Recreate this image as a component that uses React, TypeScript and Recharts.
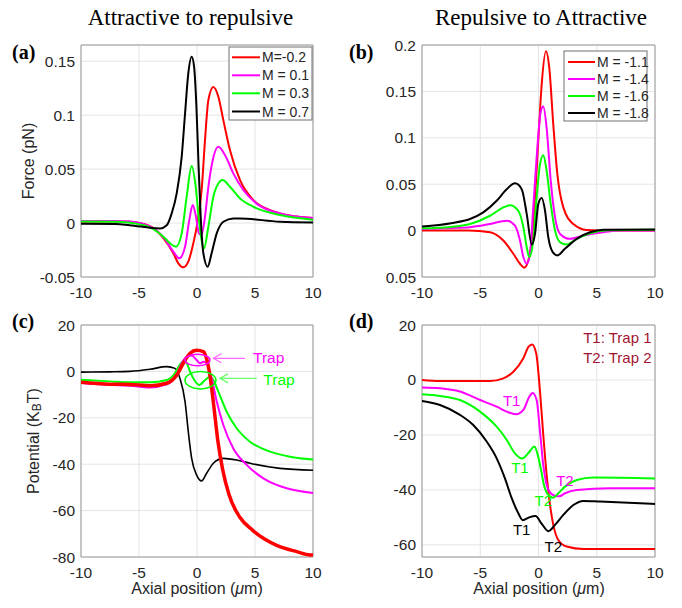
import React from 'react';
import { LineChart, Line, XAxis, YAxis, CartesianGrid, ReferenceArea, ReferenceDot, ReferenceLine } from 'recharts';

// ---------- data (x in µm, y values) ----------
const X_TICKS = [-10, -5, 0, 5, 10];
const A_TICKS = [-0.05, 0, 0.05, 0.1, 0.15];
const B_TICKS = [-0.05, 0, 0.05, 0.1, 0.15, 0.2];
const C_TICKS = [-80, -60, -40, -20, 0, 20];
const D_TICKS = [-60, -40, -20, 0, 20];

const A_LABELS = ['M=-0.2', 'M = 0.1', 'M = 0.3', 'M = 0.7'];
const B_LABELS = ['M = -1.1', 'M = -1.4', 'M = -1.6', 'M = -1.8'];

const aRed = [[-10,0.0015],[-7,0.0015],[-5.8,0.0012],[-4.05,-0.003],[-2.9,-0.014],[-2.04,-0.028],[-1.61,-0.0373],[-1.18,-0.041],[-0.75,-0.0358],[-0.32,-0.0188],[0.05,0.001],[0.4,0.0306],[0.69,0.0769],[0.98,0.114],[1.41,0.126],[1.84,0.117],[2.27,0.0954],[2.84,0.0676],[3.71,0.0398],[4.86,0.0213],[6.3,0.012],[7.16,0.0089],[10,0.0046]];
const aMag = [[-10,0.002],[-7,0.002],[-5.8,0.0015],[-4.05,-0.003],[-2.9,-0.013],[-2.04,-0.0265],[-1.52,-0.0327],[-1.03,-0.022],[-0.66,0.0028],[-0.37,0.0167],[-0.09,0.0059],[0.17,-0.0096],[0.38,-0.011],[0.69,0.0059],[0.98,0.0336],[1.35,0.058],[1.84,0.0706],[2.41,0.063],[3.13,0.046],[3.99,0.0306],[5.14,0.018],[7.16,0.0089],[10,0.0046]];
const aGreen = [[-10,0.0015],[-7,0.0012],[-5.8,0.0003],[-4.05,-0.004],[-2.9,-0.0127],[-2.3,-0.019],[-1.81,-0.0219],[-1.32,-0.0096],[-0.89,0.0244],[-0.46,0.0528],[-0.11,0.0336],[0.17,0.0028],[0.6,-0.0235],[0.98,-0.0034],[1.41,0.0244],[1.84,0.0367],[2.21,0.0398],[2.84,0.0336],[3.71,0.0228],[4.86,0.0151],[7.16,0.0074],[10,0.0031]];
const aBlack = [[-10,-0.0006],[-7,-0.0008],[-5.8,-0.002],[-3.19,-0.005],[-2.61,-0.002],[-2.18,0.009],[-1.75,0.0275],[-1.32,0.0614],[-1.03,0.1015],[-0.75,0.1386],[-0.46,0.154],[-0.25,0.1448],[-0.05,0.108],[0.14,0.052],[0.32,0.0059],[0.55,-0.0281],[0.92,-0.0404],[1.26,-0.028],[1.7,-0.0096],[2.27,0.0012],[3.13,0.0043],[3.7,0.0043],[7.16,0.0012],[10,0.0006]];

const bRed = [[-10,0],[-6,0],[-4.16,-0.0018],[-3.02,-0.0107],[-2.16,-0.025],[-1.59,-0.0357],[-1.22,-0.0399],[-0.87,-0.032],[-0.58,-0.0107],[-0.3,0.0356],[-0.02,0.0963],[0.27,0.1569],[0.64,0.1932],[0.93,0.1747],[1.27,0.1141],[1.62,0.0606],[2.13,0.025],[2.99,0.0071],[4.14,0.0007],[6,0],[10,0]];
const bMag = [[-10,0.0018],[-7.5,0.0028],[-5.88,0.0036],[-4.16,0.0071],[-2.73,0.0107],[-2.02,0.0053],[-1.59,-0.0107],[-1.3,-0.0285],[-1.01,-0.0356],[-0.73,-0.025],[-0.45,0.025],[-0.16,0.0784],[0.19,0.1283],[0.41,0.1337],[0.7,0.1105],[1.05,0.0535],[1.42,0.0143],[1.85,-0.0036],[2.7,-0.0089],[3.85,-0.0053],[5.56,-0.0018],[7,0],[10,0]];
const bGreen = [[-10,0.0025],[-7.5,0.004],[-5.88,0.0071],[-4.16,0.016],[-3.02,0.025],[-2.45,0.0274],[-1.73,0.0214],[-1.3,0.0036],[-1.01,-0.0178],[-0.79,-0.0285],[-0.45,-0.0107],[-0.16,0.0356],[0.13,0.0713],[0.41,0.0813],[0.7,0.0642],[1.05,0.0285],[1.42,0],[1.85,-0.0125],[2.42,-0.015],[3.28,-0.0089],[4.42,-0.0029],[6,0.0005],[10,0.001]];
const bBlack = [[-10,0.0043],[-7.5,0.008],[-5.88,0.0125],[-4.74,0.0196],[-3.59,0.0321],[-2.73,0.0446],[-2.02,0.0509],[-1.44,0.0446],[-1.01,0.0178],[-0.58,-0.015],[-0.3,-0.0036],[-0.02,0.0285],[0.27,0.035],[0.56,0.0214],[0.84,-0.0071],[1.22,-0.0232],[1.62,-0.0267],[2.27,-0.0196],[3.28,-0.0089],[4.42,-0.0018],[5.56,0.001],[10,0.0012]];

const cRed = [[-10,-4.7],[-7.5,-5.5],[-5.78,-5.6],[-4.05,-6.15],[-2.61,-5.1],[-1.75,-1.6],[-1.18,3.5],[-0.6,7.8],[-0.03,9.1],[0.55,8.5],[0.89,4.2],[1.15,-3],[1.45,-15],[1.8,-30],[2.2,-42],[2.75,-53],[3.71,-63],[4.8,-68.5],[5.9,-72.5],[6.87,-75],[8.6,-77.7],[9.74,-79.1],[10,-79]];
const cMag = [[-10,-5],[-7.5,-5.8],[-5.78,-6.15],[-4.05,-6.9],[-2.61,-5.6],[-1.75,-1.3],[-1.32,3.5],[-0.89,6.35],[-0.46,6.8],[-0.03,4.9],[0.26,3.5],[0.6,4.2],[0.89,3.0],[1.27,-3],[1.7,-13],[2.27,-23.1],[3.13,-33.2],[4.28,-40.3],[5.72,-46.1],[7.73,-50.4],[10,-52.4]];
const cGreen = [[-10,-3.6],[-7.5,-4.3],[-5.78,-4.7],[-4.05,-4.7],[-2.61,-3.7],[-1.9,-0.8],[-1.47,3.0],[-1.12,4.5],[-0.83,3.0],[-0.6,-0.1],[-0.32,-3.0],[0.2,-5.9],[0.69,-3.7],[1.12,-2.3],[1.41,-3.7],[1.84,-8.7],[2.56,-17.4],[3.42,-24.5],[4.57,-30.3],[6.3,-34.6],[8.02,-36.8],[10,-38]];
const cBlack = [[-10,-0.3],[-7.5,-0.2],[-5.78,0],[-4.05,0.9],[-2.61,2.04],[-1.9,1.3],[-1.47,-3],[-1.03,-13],[-0.75,-26],[-0.46,-37.5],[-0.03,-44.7],[0.4,-47.2],[0.83,-43.9],[1.41,-39.6],[2.27,-37.5],[3.42,-38.2],[4.57,-39.6],[7.16,-41.8],[10,-42.6]];

const dRed = [[-10,0],[-8.45,-0.36],[-4.16,-0.36],[-3.02,0.6],[-2.16,3.0],[-1.3,7.9],[-0.85,12.1],[-0.55,12.9],[-0.2,9.7],[0.13,-4.2],[0.41,-20],[0.7,-34.5],[0.99,-45.5],[1.27,-52.7],[1.7,-58.2],[2.42,-60.6],[3.85,-61.5],[10,-61.5]];
const dMag = [[-10,-2.7],[-8.45,-3.0],[-6.74,-4.2],[-5.02,-7.3],[-3.59,-9.7],[-2.73,-11.5],[-1.93,-12.5],[-1.3,-10.9],[-0.79,-6.1],[-0.5,-4.7],[-0.16,-7.3],[0.13,-18.8],[0.41,-30.9],[0.7,-38.2],[1.05,-41.2],[1.42,-42.1],[1.79,-42.3],[2.27,-41.2],[3.28,-40],[6.14,-39.4],[10,-39.4]];
const dGreen = [[-10,-5.2],[-8.45,-5.8],[-6.74,-7.3],[-5.02,-11.5],[-3.59,-17],[-2.73,-21.8],[-2.02,-26.7],[-1.4,-28.6],[-0.85,-26.5],[-0.35,-24.2],[-0.1,-26.7],[0.19,-32.1],[0.47,-38.2],[0.84,-41.8],[1.27,-42.8],[1.7,-41.2],[2.27,-38.8],[3.28,-36.4],[4.7,-35.5],[10,-35.8]];
const dBlack = [[-10,-7.6],[-8.45,-9.1],[-6.74,-12.7],[-5.6,-16.4],[-4.45,-22.4],[-3.59,-28.5],[-2.88,-35.8],[-2.3,-43],[-1.73,-48.5],[-1.35,-51],[-0.8,-50],[-0.25,-49.5],[0.27,-52.3],[0.85,-55],[1.42,-52.7],[2.13,-49.1],[2.99,-45.5],[3.85,-44],[5.28,-44.2],[10,-45.1]];

// ---------- styles ----------
const SANS = '"Liberation Sans", Arial, sans-serif';
const SERIF = '"Liberation Serif", "Times New Roman", serif';
const TXT = '#262626';
const RED = '#ff0000';
const MAG = '#ff00ff';
const GRN = '#00ff00';
const BLK = '#000000';
const TRAP = '#a2142f';

const toPts = (arr: number[][]) => arr.map(([x, y]) => ({ x, y }));

const textShape = (txt: string, color: string, anchor: string = 'middle', size = 15) => (p: any) => (
  <text x={p.cx} y={p.cy} fill={color} fontSize={size} textAnchor={anchor} dominantBaseline="central" fontFamily={SANS}>{txt}</text>
);
const ellipseShape = (rx: number, ry: number, color: string) => (p: any) => (
  <ellipse cx={p.cx} cy={p.cy} rx={rx} ry={ry} fill="none" stroke={color} strokeWidth={1.5} />
);
const arrowHead = (color: string) => (p: any) => (
  <path d={`M${p.cx + 8},${p.cy - 4.5} L${p.cx},${p.cy} L${p.cx + 8},${p.cy + 4.5}`} fill="none" stroke={color} strokeWidth={1.2} />
);

type Series = { data: number[][]; color: string; w: number };

function Panel(props: {
  left: number; top: number; width: number; height: number;
  margin: any; xH: number; yDomain: number[]; yTicks: number[];
  yFmt?: (v: number) => string; series: Series[]; children?: any;
}) {
  const { left, top, width, height, margin, xH, yDomain, yTicks, yFmt, series, children } = props;
  const tick = { fill: TXT, fontSize: 15.5, fontFamily: SANS };
  return (
    <div style={{ position: 'absolute', left, top }}>
      <LineChart width={width} height={height} margin={margin}>
        <CartesianGrid stroke="#e4e4e4" strokeWidth={1} />
        <XAxis dataKey="x" type="number" domain={[-10, 10]} ticks={X_TICKS} allowDataOverflow
          axisLine={false} tickLine={false} tickSize={0} tickMargin={10} height={xH} tick={tick} interval={0} />
        <YAxis type="number" domain={yDomain} ticks={yTicks} allowDataOverflow width={50}
          axisLine={false} tickLine={false} tickSize={0} tickMargin={6} tick={tick} interval={0}
          tickFormatter={yFmt || ((v: number) => String(v))} />
        <ReferenceArea x1={-10} x2={10} y1={yDomain[0]} y2={yDomain[1]} fill="none" fillOpacity={0} stroke="#9a9a9a" strokeWidth={1} ifOverflow="extendDomain" />
        {series.map((s, i) => (
          <Line key={i} data={toPts(s.data)} dataKey="y" type="monotone" stroke={s.color} strokeWidth={s.w}
            dot={false} activeDot={false} isAnimationActive={false} />
        ))}
        {children}
      </LineChart>
    </div>
  );
}

function LegendBox({ x, y, w, h, rows, labels, colors, lineX1, lineX2, textX }: any) {
  return (
    <g>
      <rect x={x} y={y} width={w} height={h} fill="#fff" stroke="#707070" strokeWidth={1} />
      {labels.map((l: string, i: number) => (
        <g key={i}>
          <line x1={lineX1} x2={lineX2} y1={rows[i]} y2={rows[i]} stroke={colors[i]} strokeWidth={2} />
          <text x={textX} y={rows[i]} dominantBaseline="central" fontSize={14} fill={TXT} fontFamily={SANS}>{l}</text>
        </g>
      ))}
    </g>
  );
}

export default function App() {
  const colors = [RED, MAG, GRN, BLK];
  return (
    <div style={{ position: 'fixed', left: 0, top: 0, width: 682, height: 608, background: '#fff', overflow: 'hidden' }}>
      <Panel left={0} top={0} width={340} height={300} margin={{ top: 45, right: 27, bottom: 3, left: 31 }} xH={20}
        yDomain={[-0.05, 0.165]} yTicks={A_TICKS}
        series={[{ data: aRed, color: RED, w: 2 }, { data: aMag, color: MAG, w: 2 }, { data: aGreen, color: GRN, w: 2 }, { data: aBlack, color: BLK, w: 2 }]} />
      <Panel left={340} top={0} width={342} height={300} margin={{ top: 45, right: 27, bottom: 3, left: 32 }} xH={20}
        yDomain={[-0.05, 0.2]} yTicks={B_TICKS} yFmt={(v: number) => String(Math.abs(v))}
        series={[{ data: bRed, color: RED, w: 2 }, { data: bMag, color: MAG, w: 2 }, { data: bGreen, color: GRN, w: 2 }, { data: bBlack, color: BLK, w: 2 }]} />
      <Panel left={0} top={300} width={340} height={308} margin={{ top: 25, right: 27, bottom: 6, left: 31 }} xH={45}
        yDomain={[-80, 20]} yTicks={C_TICKS}
        series={[{ data: cBlack, color: BLK, w: 1.6 }, { data: cGreen, color: GRN, w: 2 }, { data: cMag, color: MAG, w: 2 }, { data: cRed, color: RED, w: 3.5 }]}>
        <ReferenceDot x={0.04} y={4.9} shape={ellipseShape(12.5, 5.7, MAG)} />
        <ReferenceDot x={0.3} y={-3.8} shape={ellipseShape(15.5, 8.7, GRN)} />
        <ReferenceLine segment={[{ x: 1.41, y: 5.65 }, { x: 4.14, y: 5.65 }]} stroke="#ff66ff" strokeWidth={1.2} />
        <ReferenceDot x={1.41} y={5.65} shape={arrowHead('#ff66ff')} />
        <ReferenceDot x={4.83} y={5.8} shape={textShape('Trap', MAG, 'start', 15.5)} />
        <ReferenceLine segment={[{ x: 1.98, y: -3.0 }, { x: 5.15, y: -3.0 }]} stroke="#66ff66" strokeWidth={1.2} />
        <ReferenceDot x={1.98} y={-3.0} shape={arrowHead('#66ff66')} />
        <ReferenceDot x={5.72} y={-3.3} shape={textShape('Trap', GRN, 'start', 15.5)} />
      </Panel>
      <Panel left={340} top={300} width={342} height={308} margin={{ top: 25, right: 27, bottom: 6, left: 32 }} xH={45}
        yDomain={[-64.4, 20]} yTicks={D_TICKS}
        series={[{ data: dRed, color: RED, w: 2 }, { data: dMag, color: MAG, w: 2 }, { data: dGreen, color: GRN, w: 2 }, { data: dBlack, color: BLK, w: 2 }]}>
        <ReferenceDot x={-2.3} y={-7.3} shape={textShape('T1', MAG)} />
        <ReferenceDot x={-1.59} y={-31.8} shape={textShape('T1', GRN)} />
        <ReferenceDot x={2.27} y={-36.7} shape={textShape('T2', MAG)} />
        <ReferenceDot x={0.41} y={-44} shape={textShape('T2', GRN)} />
        <ReferenceDot x={-1.44} y={-54.5} shape={textShape('T1', BLK)} />
        <ReferenceDot x={1.27} y={-60.4} shape={textShape('T2', BLK)} />
        <ReferenceDot x={9.7} y={15.5} shape={textShape('T1: Trap 1', TRAP, 'end')} />
        <ReferenceDot x={9.7} y={8.2} shape={textShape('T2: Trap 2', TRAP, 'end')} />
      </Panel>

      <svg width={682} height={608} style={{ position: 'absolute', left: 0, top: 0, pointerEvents: 'none' }}>
        <text x={190.5} y={24.5} textAnchor="middle" fontFamily={SERIF} fontSize={23} fill="#000">Attractive to repulsive</text>
        <text x={541} y={24.5} textAnchor="middle" fontFamily={SERIF} fontSize={23} fill="#000">Repulsive to Attractive</text>
        <text x={12} y={59} fontFamily={SERIF} fontWeight="bold" fontSize={20} fill="#000">(a)</text>
        <text x={349} y={59} fontFamily={SERIF} fontWeight="bold" fontSize={20} fill="#000">(b)</text>
        <text x={12} y={328} fontFamily={SERIF} fontWeight="bold" fontSize={20} fill="#000">(c)</text>
        <text x={349} y={328} fontFamily={SERIF} fontWeight="bold" fontSize={20} fill="#000">(d)</text>
        <text transform="translate(28,161) rotate(-90)" textAnchor="middle" dominantBaseline="central" fontFamily={SANS} fontSize={16} fill={TXT}>Force (pN)</text>
        <text transform="translate(33,441) rotate(-90)" textAnchor="middle" dominantBaseline="central" fontFamily={SANS} fontSize={16} fill={TXT}>
          Potential (K<tspan fontSize={12} dy={4}>B</tspan><tspan dy={-4}>T)</tspan>
        </text>
        <text x={197} y={594} textAnchor="middle" fontFamily={SANS} fontSize={16} fill={TXT}>Axial position (<tspan fontStyle="italic">μ</tspan>m)</text>
        <text x={539} y={594} textAnchor="middle" fontFamily={SANS} fontSize={16} fill={TXT}>Axial position (<tspan fontStyle="italic">μ</tspan>m)</text>
        <LegendBox x={229} y={47} w={83} h={73} rows={[57.3, 75.3, 93.3, 111.5]} labels={A_LABELS} colors={colors} lineX1={232} lineX2={260} textX={262} />
        <LegendBox x={564} y={51} w={83} h={70} rows={[62, 79, 96, 113]} labels={B_LABELS} colors={colors} lineX1={568} lineX2={595} textX={597} />
      </svg>
    </div>
  );
}
